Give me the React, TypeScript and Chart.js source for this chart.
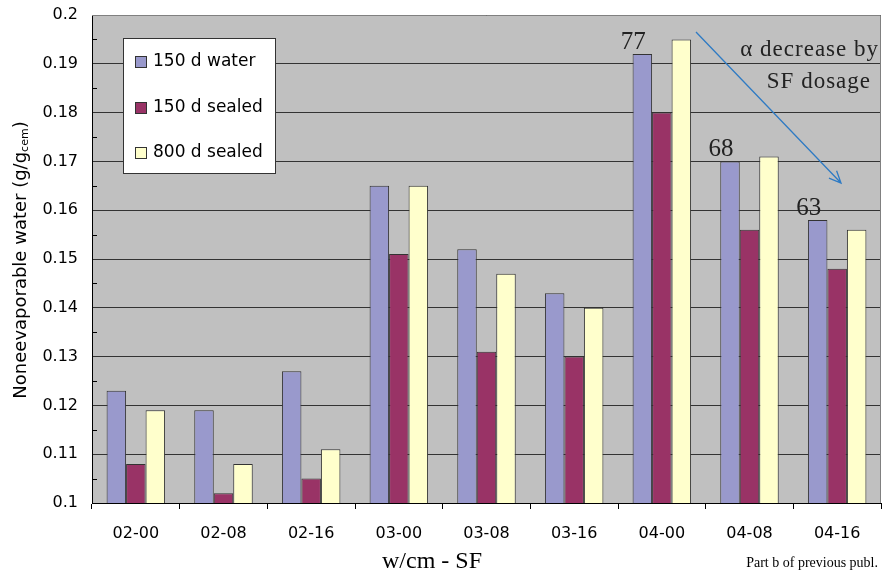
import React, { useEffect, useRef } from 'react';
import { Chart, registerables } from 'chart.js';
Chart.register(...registerables);

const categories = ['02-00', '02-08', '02-16', '03-00', '03-08', '03-16', '04-00', '04-08', '04-16'];
const water150 = [0.123, 0.119, 0.127, 0.165, 0.152, 0.143, 0.192, 0.170, 0.158];
const sealed150 = [0.108, 0.102, 0.105, 0.151, 0.131, 0.130, 0.180, 0.156, 0.148];
const sealed800 = [0.119, 0.108, 0.111, 0.165, 0.147, 0.140, 0.195, 0.171, 0.156];
const seriesNames = ['150 d water', '150 d sealed', '800 d sealed'];
const seriesColors = ['#9999CC', '#993366', '#FFFFCC'];
const alphaCats = ['04-00', '04-08', '04-16'];
const alphaValues = ['77', '68', '63'];
const yTitleMain = 'Noneevaporable water (g/g';
const yTitleSub = 'cem';
const xTitle = 'w/cm - SF';
const noteText = 'Part b of previous publ.';
const arrowLines = ['\u03B1 decrease by', 'SF dosage'];

const SANS = '"DejaVu Sans", sans-serif';
const SERIF = '"Liberation Serif", "Times New Roman", serif';

const decorPlugin = {
  id: 'decor',
  beforeDraw(chart: any) {
    const { ctx, chartArea: a } = chart;
    ctx.save();
    ctx.fillStyle = '#C0C0C0';
    ctx.fillRect(a.left, a.top, a.right - a.left, a.bottom - a.top);
    ctx.restore();
  },
  afterDraw(chart: any) {
    const { ctx, chartArea: a } = chart;
    const ys = chart.scales.y;
    ctx.save();
    // frame top/right
    ctx.strokeStyle = '#808080';
    ctx.lineWidth = 1;
    ctx.beginPath();
    ctx.moveTo(a.left, a.top + 0.5);
    ctx.lineTo(a.right - 0.5, a.top + 0.5);
    ctx.lineTo(a.right - 0.5, a.bottom);
    ctx.stroke();
    // minor ticks
    ctx.strokeStyle = '#000';
    ctx.beginPath();
    for (let i = 0; i < 10; i++) {
      const v = 0.105 + i * 0.01;
      const y = Math.round(ys.getPixelForValue(v)) + 0.5;
      ctx.moveTo(a.left, y);
      ctx.lineTo(a.left + 5, y);
    }
    ctx.stroke();

    // legend
    const lx = a.left + 31, ly = a.top + 23;
    ctx.fillStyle = '#fff';
    ctx.fillRect(lx, ly, 152, 135);
    ctx.strokeStyle = '#333';
    ctx.strokeRect(lx + 0.5, ly + 0.5, 152, 135);
    const rowY = [24, 70, 115];
    ctx.font = '17px ' + SANS;
    ctx.textBaseline = 'middle';
    ctx.textAlign = 'left';
    seriesNames.forEach((n, i) => {
      const cy = ly + rowY[i];
      ctx.fillStyle = seriesColors[i];
      ctx.fillRect(lx + 12, cy - 6, 11, 11);
      ctx.strokeStyle = '#333';
      ctx.strokeRect(lx + 12.5, cy - 5.5, 11, 11);
      ctx.fillStyle = '#000';
      ctx.fillText(n, lx + 30, cy);
    });

    // alpha labels
    const meta = chart.getDatasetMeta(0);
    ctx.font = '25px ' + SERIF;
    ctx.textAlign = 'center';
    ctx.textBaseline = 'alphabetic';
    ctx.fillStyle = '#222';
    alphaCats.forEach((c, i) => {
      const idx = categories.indexOf(c);
      const el = meta.data[idx];
      ctx.fillText(alphaValues[i], el.x - 9, el.y - 5);
    });

    // arrow
    const x0 = a.left + 604, y0 = a.top + 17, x1 = a.left + 749, y1 = a.top + 168;
    ctx.strokeStyle = '#2F7BC4';
    ctx.lineWidth = 1.3;
    ctx.beginPath();
    ctx.moveTo(x0, y0);
    ctx.lineTo(x1, y1);
    const ang = Math.atan2(y1 - y0, x1 - x0);
    const hl = 13, hw = 0.42;
    ctx.moveTo(x1 - hl * Math.cos(ang - hw), y1 - hl * Math.sin(ang - hw));
    ctx.lineTo(x1, y1);
    ctx.lineTo(x1 - hl * Math.cos(ang + hw), y1 - hl * Math.sin(ang + hw));
    ctx.stroke();

    // arrow text
    ctx.fillStyle = '#222';
    ctx.font = '23px ' + SERIF;
    ctx.textAlign = 'right';
    try { (ctx as any).letterSpacing = '1px'; } catch (e) {}
    ctx.fillText(arrowLines[0], 879, 56);
    ctx.fillText(arrowLines[1], 871, 88);
    try { (ctx as any).letterSpacing = '0px'; } catch (e) {}

    // x title
    ctx.textAlign = 'center';
    ctx.textBaseline = 'middle';
    ctx.font = '24px ' + SERIF;
    ctx.fillStyle = '#000';
    ctx.fillText(xTitle, 432, 562);
    // note
    ctx.textAlign = 'right';
    ctx.font = '14px ' + SERIF;
    ctx.fillText(noteText, 878, 563);

    // y title
    ctx.translate(21, 260);
    ctx.rotate(-Math.PI / 2);
    ctx.font = '18px ' + SANS;
    const w1 = ctx.measureText(yTitleMain).width;
    ctx.font = '11px ' + SANS;
    const w2 = ctx.measureText(yTitleSub).width;
    ctx.font = '18px ' + SANS;
    const w3 = ctx.measureText(')').width;
    const total = w1 + w2 + w3;
    let sx = -total / 2;
    ctx.textAlign = 'left';
    ctx.textBaseline = 'middle';
    ctx.fillText(yTitleMain, sx, 0);
    sx += w1;
    ctx.font = '11px ' + SANS;
    ctx.fillText(yTitleSub, sx, 4);
    sx += w2;
    ctx.font = '18px ' + SANS;
    ctx.fillText(')', sx, 0);
    ctx.restore();
  },
};

export default function App() {
  const ref = useRef<HTMLCanvasElement>(null);
  useEffect(() => {
    if (!ref.current) return;
    const mk = (label: string, data: number[], color: string) => ({
      label,
      data,
      backgroundColor: color,
      borderColor: '#333',
      borderWidth: 1,
      borderSkipped: 'start' as const,
      categoryPercentage: 0.667,
      barPercentage: 1,
    });
    const chart = new Chart(ref.current, {
      type: 'bar',
      data: {
        labels: categories,
        datasets: [
          mk(seriesNames[0], water150, seriesColors[0]),
          mk(seriesNames[1], sealed150, seriesColors[1]),
          mk(seriesNames[2], sealed800, seriesColors[2]),
        ],
      },
      options: {
        responsive: false,
        animation: false,
        devicePixelRatio: 1,
        layout: { padding: { top: 15, right: 1, left: 0, bottom: 0 } },
        plugins: { legend: { display: false }, tooltip: { enabled: false } },
        scales: {
          x: {
            grid: { offset: true, drawOnChartArea: false, drawTicks: true, tickLength: 6, color: '#000' },
            border: { color: '#000', width: 1 },
            ticks: { color: '#000', font: { family: SANS, size: 16 }, padding: 15, maxRotation: 0 },
            afterFit: (s: any) => { s.height = 74; s.paddingLeft = 0; s.paddingRight = 0; },
          },
          y: {
            min: 0.1,
            max: 0.2,
            grid: { color: '#333', drawTicks: false },
            border: { color: '#000', width: 1 },
            ticks: {
              stepSize: 0.01,
              color: '#000',
              padding: 14,
              font: { family: SANS, size: 16 },
              callback: (v: any) => String(Number(Number(v).toFixed(3))),
            },
            afterFit: (s: any) => { s.width = 92; s.paddingTop = 0; s.paddingBottom = 0; },
          },
        },
      },
      plugins: [decorPlugin],
    });
    return () => chart.destroy();
  }, []);
  return (
    <div style={{ position: 'absolute', left: 0, top: 0, width: 882, height: 577, background: '#fff' }}>
      <canvas ref={ref} width={882} height={577} style={{ display: 'block' }} />
    </div>
  );
}
